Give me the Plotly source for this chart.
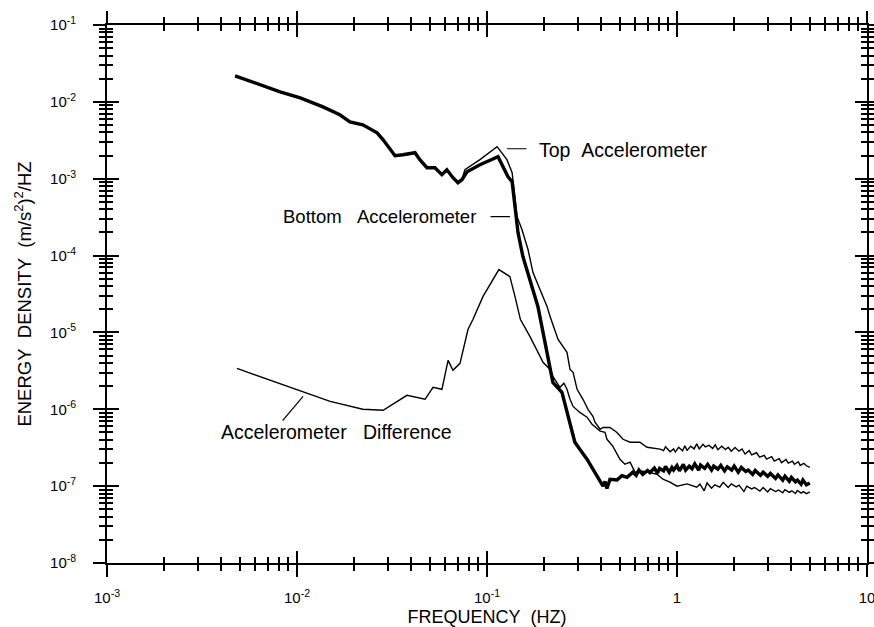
import plotly.graph_objects as go

# ---------------- data ----------------
freq_bottom = [0.00472, 0.00815, 0.0104, 0.0137, 0.0168, 0.0190, 0.0222, 0.0264, 0.0284,
               0.0328, 0.0361, 0.0418, 0.0443, 0.0483, 0.0532, 0.0579, 0.0615, 0.0662,
               0.0703, 0.0738, 0.0785, 0.0918, 0.1143, 0.129, 0.1356, 0.1403, 0.1456,
               0.1545, 0.1682, 0.1853, 0.1944, 0.2148, 0.2222, 0.248, 0.267, 0.290,
               0.308, 0.336, 0.361, 0.384, 0.408, 0.418, 0.428, 0.444, 0.483, 0.513,
               0.546, 0.586,
               0.61, 0.63, 0.66, 0.70, 0.72, 0.76, 0.79, 0.81, 0.85, 0.87, 0.91, 0.94,
               0.96, 1.0, 1.03, 1.08, 1.11, 1.16, 1.2, 1.24, 1.3, 1.33, 1.4, 1.45, 1.52,
               1.56, 1.64, 1.70, 1.78, 1.84, 1.94, 2.0, 2.1, 2.18, 2.3, 2.37, 2.5, 2.58,
               2.75, 2.84, 3.0, 3.1, 3.3, 3.4, 3.6, 3.7, 3.9, 4.0, 4.2, 4.3, 4.5,
               4.6, 4.8, 5.0]
energy_bottom = [0.0218, 0.0135, 0.01127, 0.00861, 0.00678, 0.0055, 0.00502, 0.00395, 0.00321,
                 0.00199, 0.00205, 0.00218, 0.00177, 0.00139, 0.00139, 0.00113, 0.00131, 0.00103,
                 0.000887, 0.000971, 0.00123, 0.00152, 0.00193, 0.00106, 0.000914, 0.000433, 0.000199,
                 9.7e-5, 4.88e-5, 2.18e-5, 1.2e-5, 3.61e-6, 2.24e-6, 1.66e-6, 8.1e-7, 3.73e-7,
                 3.03e-7, 2.24e-7, 1.66e-7, 1.31e-7, 1.0e-7, 1.15e-7, 0.93e-7, 1.23e-7, 1.2e-7, 1.37e-7,
                 1.3e-7, 1.52e-7,
                 1.38e-7, 1.62e-7, 1.42e-7, 1.6e-7, 1.5e-7, 1.72e-7, 1.48e-7, 1.7e-7, 1.58e-7, 1.8e-7, 1.52e-7, 1.75e-7,
                 1.62e-7, 1.85e-7, 1.58e-7, 1.92e-7, 1.62e-7, 1.82e-7, 1.68e-7, 1.95e-7, 1.62e-7, 1.88e-7, 1.7e-7, 1.92e-7, 1.62e-7,
                 1.82e-7, 1.66e-7, 1.86e-7, 1.58e-7, 1.78e-7, 1.62e-7, 1.82e-7, 1.52e-7, 1.75e-7, 1.55e-7, 1.62e-7, 1.42e-7, 1.6e-7,
                 1.38e-7, 1.52e-7, 1.34e-7, 1.46e-7, 1.26e-7, 1.4e-7, 1.2e-7, 1.35e-7, 1.16e-7, 1.3e-7, 1.14e-7, 1.2e-7, 1.06e-7,
                 1.2e-7, 1.04e-7, 1.1e-7]

freq_top = [0.00472, 0.00815, 0.0104, 0.0137, 0.0168, 0.0190, 0.0222, 0.0264, 0.0284,
            0.0328, 0.0361, 0.0418, 0.0443, 0.0483, 0.0532, 0.0579, 0.0615, 0.0662,
            0.0703, 0.0738, 0.0765, 0.0918, 0.113, 0.1273, 0.1356, 0.142, 0.1439, 0.1527,
            0.1644, 0.1746, 0.190, 0.207, 0.2148, 0.2366, 0.2636, 0.2735, 0.2838, 0.298,
            0.320, 0.340, 0.361, 0.370, 0.394, 0.408, 0.444, 0.483, 0.520, 0.566, 0.638,
            0.695, 0.815,
            0.85, 0.87, 0.92, 0.96, 0.98, 1.02, 1.07, 1.1, 1.13, 1.18, 1.23, 1.27, 1.31,
            1.37, 1.41, 1.47, 1.54, 1.59, 1.64, 1.72, 1.8, 1.86, 1.93, 2.02, 2.12, 2.2,
            2.28, 2.4, 2.47, 2.62, 2.72, 2.88, 2.96, 3.15, 3.25, 3.45, 3.55, 3.75, 3.85, 4.05,
            4.15, 4.35, 4.45, 4.65, 4.8, 5.0]
energy_top = [0.0218, 0.0135, 0.01127, 0.00861, 0.00678, 0.0055, 0.00502, 0.00395, 0.00321,
              0.00199, 0.00205, 0.00218, 0.00177, 0.00139, 0.00139, 0.00113, 0.00131, 0.00103,
              0.000887, 0.000971, 0.00131, 0.00177, 0.00261, 0.00177, 0.0012, 0.00046, 0.000321, 0.000218,
              0.00012, 6.0e-5, 3.61e-5, 2.18e-5, 1.61e-5, 8.1e-6, 5.5e-6, 3.3e-6, 3.03e-6, 1.82e-6,
              1.35e-6, 1.0e-6, 8.1e-7, 6.8e-7, 5.5e-7, 5.8e-7, 5.8e-7, 5.0e-7, 4.07e-7, 3.73e-7, 3.73e-7,
              3.21e-7, 3.03e-7,
              2.9e-7, 3.25e-7, 2.8e-7, 3.05e-7, 2.78e-7, 3.2e-7, 2.88e-7, 3.35e-7, 2.92e-7, 3.3e-7, 3.05e-7, 3.55e-7, 3.05e-7,
              3.5e-7, 3.25e-7, 3.4e-7, 3.1e-7, 3.45e-7, 2.98e-7, 3.3e-7, 3.0e-7, 3.2e-7, 2.85e-7, 3.18e-7, 2.85e-7, 3.05e-7,
              2.62e-7, 2.9e-7, 2.55e-7, 2.72e-7, 2.38e-7, 2.52e-7, 2.25e-7, 2.42e-7, 2.12e-7, 2.28e-7, 2.02e-7, 2.22e-7, 2.0e-7, 2.12e-7,
              1.92e-7, 2.08e-7, 1.86e-7, 1.98e-7, 1.84e-7, 1.75e-7]

freq_diff = [0.00483, 0.00843, 0.01494, 0.0222, 0.0284, 0.0379, 0.0472, 0.052, 0.0579,
             0.0624, 0.0662, 0.0721, 0.0794, 0.0843, 0.0953, 0.1155, 0.132, 0.1403, 0.150,
             0.1682, 0.1832, 0.1972, 0.2148, 0.2222, 0.242, 0.254, 0.2636, 0.2735, 0.2838,
             0.308, 0.336, 0.357, 0.394, 0.418, 0.428, 0.460, 0.501, 0.532, 0.566, 0.601,
             0.662, 0.785, 0.843, 0.918, 1.0, 1.13, 1.27,
             1.32, 1.39, 1.44, 1.52, 1.58, 1.68, 1.75, 1.86, 1.93, 2.05, 2.12, 2.25, 2.33,
             2.47, 2.56, 2.73, 2.84, 3.0, 3.1, 3.3, 3.42, 3.6, 3.7, 3.9, 4.02, 4.2, 4.3,
             4.5, 4.62, 4.8, 5.0]
energy_diff = [3.4e-6, 2.11e-6, 1.27e-6, 1.0e-6, 9.7e-7, 1.52e-6, 1.35e-6, 1.93e-6, 1.82e-6,
               4.33e-6, 3.21e-6, 3.96e-6, 1.09e-5, 1.47e-5, 2.94e-5, 6.58e-5, 5.33e-5, 2.94e-5, 1.47e-5,
               8.9e-6, 6.0e-6, 4.08e-6, 3.3e-6, 2.68e-6, 1.93e-6, 2.18e-6, 1.82e-6, 1.35e-6, 1.09e-6,
               9.1e-7, 7.9e-7, 6.4e-7, 5.2e-7, 5.0e-7, 4.07e-7, 3.3e-7, 2.24e-7, 1.93e-7, 2.05e-7, 1.52e-7,
               1.57e-7, 1.43e-7, 1.23e-7, 1.13e-7, 1.0e-7, 1.07e-7, 9.7e-8,
               1.06e-7, 8.7e-8, 1.1e-7, 9.4e-8, 1.04e-7, 9.7e-8, 1.12e-7, 9.6e-8, 1.07e-7, 9.8e-8, 1.03e-7, 8.5e-8, 1.0e-7,
               9.2e-8, 9.6e-8, 8.6e-8, 9.6e-8, 8.4e-8, 9.3e-8, 8.5e-8, 8.9e-8, 8.2e-8, 9.0e-8, 8.3e-8, 8.7e-8, 8.0e-8, 8.8e-8,
               8.1e-8, 8.5e-8, 8.0e-8, 8.4e-8]

x_tickvals = [1e-3, 1e-2, 1e-1, 1, 10]
x_ticktext = ["10<sup>-3</sup>", "10<sup>-2</sup>", "10<sup>-1</sup>", "1", "10"]
y_tickvals = [1e-8, 1e-7, 1e-6, 1e-5, 1e-4, 1e-3, 1e-2, 1e-1]
y_ticktext = ["10<sup>-8</sup>", "10<sup>-7</sup>", "10<sup>-6</sup>", "10<sup>-5</sup>",
              "10<sup>-4</sup>", "10<sup>-3</sup>", "10<sup>-2</sup>", "10<sup>-1</sup>"]
x_minor = [m * 10.0 ** e for e in range(-3, 1) for m in range(2, 10)]
y_minor = [m * 10.0 ** e for e in range(-8, -1) for m in range(2, 10)]

FONT = "Liberation Sans"
INK = "black"

fig = go.Figure()
fig.add_trace(go.Scatter(x=freq_top, y=energy_top, mode="lines",
                         line=dict(color=INK, width=1.4), showlegend=False,
                         name="Top Accelerometer"))
fig.add_trace(go.Scatter(x=freq_diff, y=energy_diff, mode="lines",
                         line=dict(color=INK, width=1.4), showlegend=False,
                         name="Accelerometer Difference"))
fig.add_trace(go.Scatter(x=freq_bottom, y=energy_bottom, mode="lines",
                         line=dict(color=INK, width=3.4), showlegend=False,
                         name="Bottom Accelerometer"))
# empty trace to create the overlay axes that carry the inward half of the ticks
fig.add_trace(go.Scatter(x=[], y=[], xaxis="x2", yaxis="y2", showlegend=False,
                         hoverinfo="skip"))

tickfont = dict(family=FONT, size=15, color=INK)


def axis_common(vals, text, minor_vals, rng, ticks, labels):
    return dict(
        type="log", range=rng, tickmode="array", tickvals=vals, ticktext=text,
        ticks=ticks, ticklen=12, tickwidth=1.8, tickcolor=INK,
        showgrid=False, zeroline=False, mirror="allticks", automargin=False,
        showticklabels=labels, tickfont=tickfont, ticklabeloverflow="allow",
        minor=dict(tickmode="array", tickvals=minor_vals, ticks=ticks,
                   ticklen=6, tickwidth=1.5, tickcolor=INK, showgrid=False),
    )


xa = axis_common(x_tickvals, x_ticktext, x_minor, [-3, 1], "outside", True)
xa.update(showline=True, linecolor=INK, linewidth=1.8, ticklabelstandoff=8,
          title=dict(text="FREQUENCY\u00a0\u00a0(HZ)",
                     font=dict(family=FONT, size=18, color=INK), standoff=8))
ya = axis_common(y_tickvals, y_ticktext, y_minor, [-8, -1], "outside", True)
ya.update(showline=True, linecolor=INK, linewidth=1.8, ticklabelstandoff=14,
          title=dict(text="ENERGY\u00a0\u00a0DENSITY\u00a0\u00a0(m/s<sup>2</sup>)<sup>2</sup>/HZ",
                     font=dict(family=FONT, size=18.5, color=INK), standoff=14))
xa2 = axis_common(x_tickvals, x_ticktext, x_minor, [-3, 1], "inside", False)
xa2.update(overlaying="x", anchor="y2", side="bottom", showline=False)
ya2 = axis_common(y_tickvals, y_ticktext, y_minor, [-8, -1], "inside", False)
ya2.update(overlaying="y", anchor="x2", side="left", showline=False)

label_font = dict(family=FONT, size=19.5, color=INK)
annotations = [
    # leader lines
    dict(x=-0.895, y=-2.610, xref="x", yref="y", text=" ", showarrow=True,
         arrowhead=0, arrowwidth=1.2, arrowcolor=INK, ax=20, ay=0,
         font=dict(size=1), borderpad=0),
    dict(x=-0.879, y=-3.494, xref="x", yref="y", text=" ", showarrow=True,
         arrowhead=0, arrowwidth=1.2, arrowcolor=INK, ax=-20, ay=0,
         font=dict(size=1), borderpad=0),
    dict(x=-1.968, y=-5.831, xref="x", yref="y", text=" ", showarrow=True,
         arrowhead=0, arrowwidth=1.2, arrowcolor=INK, ax=-21, ay=25,
         font=dict(size=1), borderpad=0),
    # labels
    dict(x=-0.732, y=-2.623, xref="x", yref="y", text="Top\u00a0\u00a0Accelerometer",
         showarrow=False, xanchor="left", yanchor="middle", font=label_font, borderpad=0),
    dict(x=-1.053, y=-3.494, xref="x", yref="y", text="Bottom\u00a0\u00a0\u00a0Accelerometer",
         showarrow=False, xanchor="right", yanchor="middle",
         font=dict(family=FONT, size=18.5, color=INK), borderpad=0),
    dict(x=-2.405, y=-6.299, xref="x", yref="y", text="Accelerometer\u00a0\u00a0\u00a0Difference",
         showarrow=False, xanchor="left", yanchor="middle", font=label_font, borderpad=0),
]

fig.update_layout(
    width=874, height=627,
    margin=dict(l=107, r=7, t=25, b=64, autoexpand=False),
    paper_bgcolor="white", plot_bgcolor="white",
    xaxis=xa, yaxis=ya, xaxis2=xa2, yaxis2=ya2,
    annotations=annotations,
    showlegend=False,
)

fig.write_html("out.html")
